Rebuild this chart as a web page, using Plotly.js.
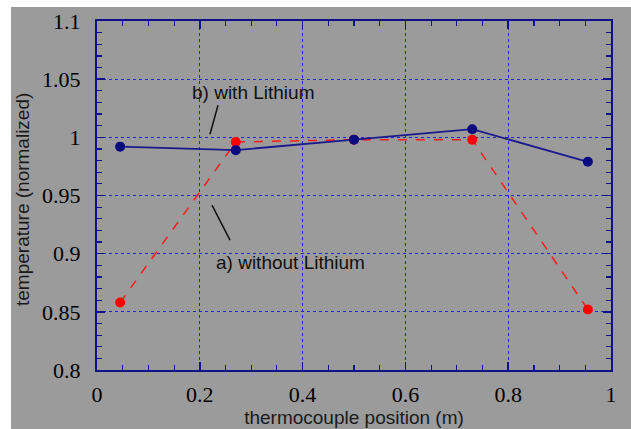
<!DOCTYPE html>
<html>
<head>
<meta charset="utf-8">
<script src="https://cdn.plot.ly/plotly-3.0.1.min.js"></script>
<style>
  html, body { margin: 0; padding: 0; background: #ffffff; width: 631px; height: 429px; overflow: hidden; }
  #chart { position: absolute; left: 11px; top: 7px; width: 620px; height: 422px; }
</style>
</head>
<body>
<div id="chart"></div>
<script>
// Thermocouple positions (m)
const positions = [0.045, 0.27, 0.5, 0.73, 0.955];
// a) without Lithium (red, dashed)
const withoutLithium = [0.858, 0.996, 0.998, 0.998, 0.852];
// b) with Lithium (blue, solid)
const withLithium = [0.992, 0.989, 0.998, 1.007, 0.979];

const xTicks = [0, 0.2, 0.4, 0.6, 0.8, 1];
const xTickText = ['0', '0.2', '0.4', '0.6', '0.8', '1'];
const yTicks = [0.8, 0.85, 0.9, 0.95, 1, 1.05, 1.1];
const yTickText = ['0.8', '0.85', '0.9', '0.95', '1', '1.05', '1.1'];

const navy = '#10108a';
const sans = 'Liberation Sans, Arial, sans-serif';
const axisCommon = {
  showline: true, linecolor: navy, linewidth: 2, mirror: 'ticks',
  ticks: 'inside', ticklen: 8, tickwidth: 1.5, tickcolor: navy,
  showgrid: true, gridcolor: '#2626d0', griddash: 'dot', gridwidth: 1,
  zeroline: false, tickmode: 'array',
  tickfont: { family: 'Liberation Serif, Times New Roman, serif', size: 22, color: '#000000' }
};

const traces = [
  {
    x: positions, y: withoutLithium, type: 'scatter', mode: 'lines+markers',
    line: { color: '#ff1a1a', width: 1.5, dash: 'dash' },
    marker: { color: '#ff0000', size: 10 },
    name: 'a) without Lithium'
  },
  {
    x: positions, y: withLithium, type: 'scatter', mode: 'lines+markers',
    line: { color: '#1a1a8c', width: 1.8 },
    marker: { color: '#0a0a80', size: 10 },
    name: 'b) with Lithium'
  }
];

const layout = {
  width: 620, height: 422,
  margin: { l: 86, r: 20, t: 14, b: 59 },
  paper_bgcolor: '#9b9b9b', plot_bgcolor: '#9b9b9b',
  showlegend: false,
  xaxis: Object.assign({}, axisCommon, {
    range: [0, 1], tickvals: xTicks, ticktext: xTickText, ticklabelstandoff: 4,
    minor: { dtick: 0.05, ticklen: 5, tickcolor: navy, tickwidth: 1.2, ticks: 'inside', showgrid: false },
    title: { text: 'thermocouple position (m)', standoff: 0,
      font: { family: sans, size: 19, color: '#1a1a1a' } }
  }),
  yaxis: Object.assign({}, axisCommon, {
    range: [0.8, 1.1], tickvals: yTicks, ticktext: yTickText, ticklabelstandoff: 10,
    minor: { dtick: 0.01, ticklen: 5, tickcolor: navy, tickwidth: 1.2, ticks: 'inside', showgrid: false }
  }),
  annotations: [
    { x: -0.144, y: 0.49, xref: 'paper', yref: 'paper', xanchor: 'center', yanchor: 'middle',
      text: 'temperature (normalized)', textangle: -90,
      showarrow: false, font: { family: sans, size: 19, color: '#1a1a1a' } },
    { x: 0.3035, y: 1.0387, xref: 'x', yref: 'y', text: 'b) with Lithium', showarrow: false,
      font: { family: sans, size: 19, color: '#111111' } },
    { x: 0.377, y: 0.8925, xref: 'x', yref: 'y', text: 'a) without Lithium', showarrow: false,
      font: { family: sans, size: 19, color: '#111111' } }
  ],
  shapes: [
    { type: 'line', xref: 'x', yref: 'y', x0: 0.2354, y0: 1.0276, x1: 0.2198, y1: 1.0027,
      line: { color: '#111111', width: 1.5 } },
    { type: 'line', xref: 'x', yref: 'y', x0: 0.2237, y0: 0.9417, x1: 0.2588, y1: 0.9116,
      line: { color: '#111111', width: 1.5 } }
  ]
};

Plotly.newPlot('chart', traces, layout, { displayModeBar: false, staticPlot: true });
</script>
</body>
</html>
